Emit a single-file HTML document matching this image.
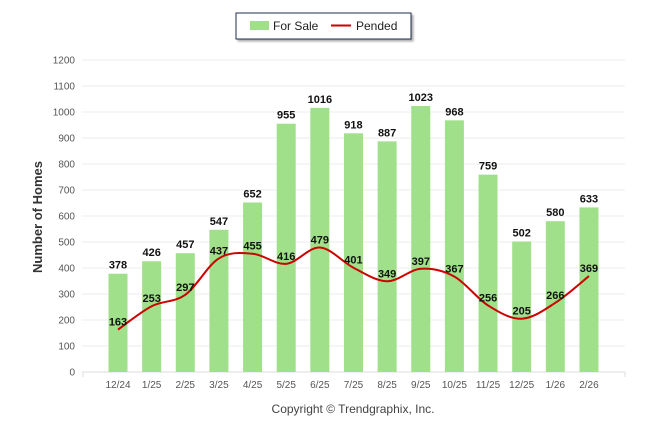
<!DOCTYPE html>
<html><head><meta charset="utf-8"><style>
body{margin:0;background:#fff;font-family:"Liberation Sans",sans-serif}
svg{display:block}
</style></head><body>
<svg id="c" width="646" height="434">
<rect x="236" y="13" width="175" height="26" fill="#fff" stroke="#1f2d4d" stroke-width="1" style="filter:drop-shadow(2px 2px 1px #aaa)"/>
<rect x="250" y="21" width="19" height="9" fill="#a0e08a"/>
<text x="273" y="30" font-size="12" fill="#222">For Sale</text>
<line x1="331" y1="25.5" x2="351" y2="25.5" stroke="#cc0000" stroke-width="2"/>
<text x="356" y="30" font-size="12" fill="#222">Pended</text>
<text transform="translate(42,217) rotate(-90)" text-anchor="middle" font-size="13" font-weight="bold" fill="#333">Number of Homes</text>
<text x="353" y="413" text-anchor="middle" font-size="12" fill="#444">Copyright © Trendgraphix, Inc.</text>
<g id="g"></g>
</svg>
<script>
const categories=["12/24","1/25","2/25","3/25","4/25","5/25","6/25","7/25","8/25","9/25","10/25","11/25","12/25","1/26","2/26"];
const forSale=[378,426,457,547,652,955,1016,918,887,1023,968,759,502,580,633];
const pended=[163,253,297,437,455,416,479,401,349,397,367,256,205,266,369];
const yTicks=[0,100,200,300,400,500,600,700,800,900,1000,1100,1200];
const NS="http://www.w3.org/2000/svg";
const g=document.getElementById('g');
const y=v=>372-v*0.26;
const x=i=>118+i*33.64;
function el(t,a,txt){const e=document.createElementNS(NS,t);for(const k in a)e.setAttribute(k,a[k]);if(txt!=null)e.textContent=txt;g.appendChild(e);return e;}
yTicks.forEach(t=>{
 const l=el('line',{x1:82,x2:625,y1:y(t),y2:y(t),stroke:t===0?'#ddd':'#ececec'});
 
 
 const tx=el('text',{x:75,y:y(t)+3.5,'text-anchor':'end','font-size':10,fill:'#555'},t);
 
 
});
[83,625].forEach(px=>{const l=el('line',{x1:px,x2:px,y1:372,y2:377,stroke:'#ddd'});
 
 });
categories.forEach((c,i)=>{
 const b=el('rect',{x:x(i)-9.5,y:y(forSale[i]),width:19,height:372-y(forSale[i]),fill:'#a0e08a'});
 
 
 const t=el('text',{x:x(i),y:y(forSale[i])-5,'text-anchor':'middle','font-size':11,'font-weight':'bold',fill:'#111'},forSale[i]);
 
 
 const xl=el('text',{x:x(i),y:388,'text-anchor':'middle','font-size':10,fill:'#555'},c);
 
 
});
const pts=pended.map((v,i)=>[x(i),y(v)]);
let d='M'+pts[0][0]+','+pts[0][1];
for(let i=0;i<pts.length-1;i++){
 const p0=pts[Math.max(0,i-1)],p1=pts[i],p2=pts[i+1],p3=pts[Math.min(pts.length-1,i+2)];
 const k=6;
 d+=` C${p1[0]+(p2[0]-p0[0])/k},${p1[1]+(p2[1]-p0[1])/k} ${p2[0]-(p3[0]-p1[0])/k},${p2[1]-(p3[1]-p1[1])/k} ${p2[0]},${p2[1]}`;
}
const line=el('path',{d:d,fill:'none',stroke:'#cc0000','stroke-width':2});


pended.forEach((v,i)=>{
 const t=el('text',{x:x(i),y:y(v)-4,'text-anchor':'middle','font-size':11,'font-weight':'bold',fill:'#111'},v);
 
 
});
</script>
</body></html>
